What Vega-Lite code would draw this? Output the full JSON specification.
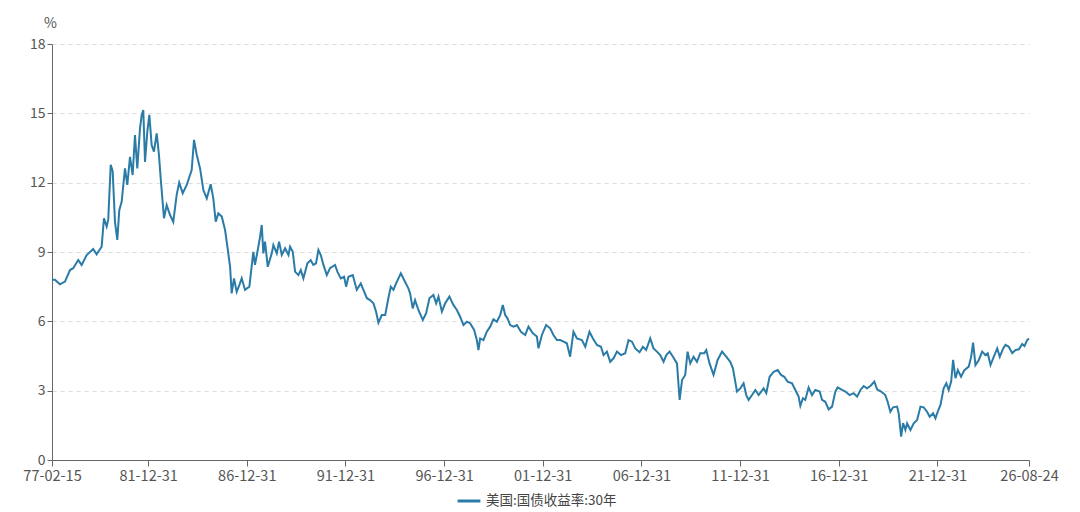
{
  "$schema": "https://vega.github.io/schema/vega-lite/v6.json",
  "width": 977,
  "height": 416,
  "autosize": "none",
  "padding": {"left": 52, "top": 44, "right": 51, "bottom": 52},
  "background": "#ffffff",
  "data": {
    "values": [
      {"date": "1977-02-15", "v": 7.8}, {"date": "1977-04-10", "v": 7.8}, {"date": "1977-07-11", "v": 7.6},
      {"date": "1977-10-13", "v": 7.72}, {"date": "1978-01-14", "v": 8.22}, {"date": "1978-03-14", "v": 8.3},
      {"date": "1978-06-16", "v": 8.65}, {"date": "1978-08-18", "v": 8.44}, {"date": "1978-11-19", "v": 8.87},
      {"date": "1979-03-20", "v": 9.13}, {"date": "1979-05-22", "v": 8.9}, {"date": "1979-08-23", "v": 9.23},
      {"date": "1979-10-05", "v": 10.46}, {"date": "1979-11-24", "v": 10.1}, {"date": "1979-12-23", "v": 10.4},
      {"date": "1980-02-07", "v": 12.77}, {"date": "1980-03-14", "v": 12.5}, {"date": "1980-04-26", "v": 10.3},
      {"date": "1980-06-08", "v": 9.52}, {"date": "1980-07-14", "v": 10.8}, {"date": "1980-08-28", "v": 11.18},
      {"date": "1980-10-28", "v": 12.62}, {"date": "1980-12-10", "v": 11.9}, {"date": "1981-01-29", "v": 13.12},
      {"date": "1981-03-19", "v": 12.33}, {"date": "1981-05-01", "v": 14.06}, {"date": "1981-06-13", "v": 12.62},
      {"date": "1981-08-02", "v": 14.35}, {"date": "1981-09-03", "v": 14.93}, {"date": "1981-10-02", "v": 15.14},
      {"date": "1981-11-03", "v": 12.9}, {"date": "1981-12-15", "v": 14.2}, {"date": "1982-01-22", "v": 14.93},
      {"date": "1982-03-06", "v": 13.63}, {"date": "1982-04-17", "v": 13.34}, {"date": "1982-06-07", "v": 14.13},
      {"date": "1982-07-19", "v": 13.2}, {"date": "1982-08-20", "v": 12.19}, {"date": "1982-10-20", "v": 10.46},
      {"date": "1982-12-09", "v": 11.03}, {"date": "1983-02-10", "v": 10.6}, {"date": "1983-04-10", "v": 10.3},
      {"date": "1983-06-12", "v": 11.47}, {"date": "1983-07-29", "v": 12.0}, {"date": "1983-10-02", "v": 11.54},
      {"date": "1983-12-15", "v": 11.9}, {"date": "1984-03-16", "v": 12.55}, {"date": "1984-04-28", "v": 13.85},
      {"date": "1984-06-18", "v": 13.2}, {"date": "1984-08-18", "v": 12.62}, {"date": "1984-10-18", "v": 11.68},
      {"date": "1984-12-20", "v": 11.32}, {"date": "1985-03-03", "v": 11.93}, {"date": "1985-04-20", "v": 11.32},
      {"date": "1985-06-04", "v": 10.31}, {"date": "1985-07-22", "v": 10.67}, {"date": "1985-09-24", "v": 10.53},
      {"date": "1985-11-24", "v": 9.95}, {"date": "1986-01-06", "v": 9.23}, {"date": "1986-02-25", "v": 8.36},
      {"date": "1986-03-26", "v": 7.21}, {"date": "1986-05-08", "v": 7.86}, {"date": "1986-06-27", "v": 7.28},
      {"date": "1986-08-15", "v": 7.57}, {"date": "1986-09-28", "v": 7.86}, {"date": "1986-11-28", "v": 7.36},
      {"date": "1987-02-17", "v": 7.5}, {"date": "1987-05-01", "v": 9.01}, {"date": "1987-06-01", "v": 8.44},
      {"date": "1987-08-02", "v": 9.23}, {"date": "1987-09-03", "v": 9.66}, {"date": "1987-10-04", "v": 10.17},
      {"date": "1987-11-03", "v": 8.94}, {"date": "1987-12-04", "v": 9.45}, {"date": "1988-01-23", "v": 8.36},
      {"date": "1988-04-06", "v": 8.94}, {"date": "1988-05-06", "v": 9.3}, {"date": "1988-07-08", "v": 8.94},
      {"date": "1988-08-20", "v": 9.45}, {"date": "1988-10-09", "v": 8.87}, {"date": "1988-12-09", "v": 9.16},
      {"date": "1989-02-10", "v": 8.87}, {"date": "1989-03-11", "v": 9.23}, {"date": "1989-04-30", "v": 9.01},
      {"date": "1989-06-12", "v": 8.15}, {"date": "1989-08-12", "v": 8.0}, {"date": "1989-09-26", "v": 8.22},
      {"date": "1989-11-13", "v": 7.86}, {"date": "1990-01-27", "v": 8.51}, {"date": "1990-03-28", "v": 8.65},
      {"date": "1990-05-16", "v": 8.44}, {"date": "1990-07-05", "v": 8.51}, {"date": "1990-08-18", "v": 9.09},
      {"date": "1990-10-01", "v": 8.87}, {"date": "1990-11-19", "v": 8.44}, {"date": "1991-01-21", "v": 8.0},
      {"date": "1991-03-21", "v": 8.3}, {"date": "1991-06-22", "v": 8.44}, {"date": "1991-08-04", "v": 8.15},
      {"date": "1991-10-06", "v": 7.86}, {"date": "1991-12-07", "v": 7.93}, {"date": "1992-01-13", "v": 7.5},
      {"date": "1992-02-25", "v": 7.93}, {"date": "1992-05-15", "v": 8.0}, {"date": "1992-07-28", "v": 7.36},
      {"date": "1992-10-11", "v": 7.64}, {"date": "1992-11-28", "v": 7.36}, {"date": "1993-02-01", "v": 7.0},
      {"date": "1993-04-01", "v": 6.92}, {"date": "1993-06-01", "v": 6.78}, {"date": "1993-07-20", "v": 6.42},
      {"date": "1993-09-02", "v": 5.94}, {"date": "1993-11-04", "v": 6.27}, {"date": "1994-01-05", "v": 6.27},
      {"date": "1994-03-05", "v": 7.0}, {"date": "1994-04-19", "v": 7.5}, {"date": "1994-06-07", "v": 7.36},
      {"date": "1994-07-26", "v": 7.64}, {"date": "1994-10-22", "v": 8.08}, {"date": "1994-12-22", "v": 7.79},
      {"date": "1995-03-10", "v": 7.43}, {"date": "1995-04-11", "v": 7.21}, {"date": "1995-05-30", "v": 6.56},
      {"date": "1995-07-12", "v": 6.92}, {"date": "1995-09-12", "v": 6.49}, {"date": "1995-12-03", "v": 6.06},
      {"date": "1996-02-03", "v": 6.35}, {"date": "1996-04-03", "v": 7.0}, {"date": "1996-06-16", "v": 7.14},
      {"date": "1996-08-06", "v": 6.78}, {"date": "1996-09-18", "v": 7.07}, {"date": "1996-11-20", "v": 6.42},
      {"date": "1997-01-20", "v": 6.78}, {"date": "1997-04-08", "v": 7.07}, {"date": "1997-06-21", "v": 6.71},
      {"date": "1997-08-24", "v": 6.49}, {"date": "1997-10-24", "v": 6.2}, {"date": "1997-12-24", "v": 5.84},
      {"date": "1998-02-26", "v": 5.98}, {"date": "1998-04-26", "v": 5.92}, {"date": "1998-07-10", "v": 5.63},
      {"date": "1998-08-29", "v": 5.19}, {"date": "1998-09-28", "v": 4.76}, {"date": "1998-10-29", "v": 5.26},
      {"date": "1998-12-29", "v": 5.19}, {"date": "1999-03-02", "v": 5.55}, {"date": "1999-05-02", "v": 5.77},
      {"date": "1999-07-02", "v": 6.09}, {"date": "1999-09-04", "v": 5.98}, {"date": "1999-11-04", "v": 6.27},
      {"date": "1999-12-23", "v": 6.71}, {"date": "2000-02-05", "v": 6.27}, {"date": "2000-03-18", "v": 6.13},
      {"date": "2000-05-07", "v": 5.84}, {"date": "2000-07-07", "v": 5.77}, {"date": "2000-09-09", "v": 5.84},
      {"date": "2000-11-22", "v": 5.55}, {"date": "2001-02-10", "v": 5.41}, {"date": "2001-04-11", "v": 5.77},
      {"date": "2001-07-01", "v": 5.48}, {"date": "2001-09-14", "v": 5.34}, {"date": "2001-10-13", "v": 4.83},
      {"date": "2001-12-15", "v": 5.41}, {"date": "2002-03-04", "v": 5.84}, {"date": "2002-05-17", "v": 5.7},
      {"date": "2002-07-17", "v": 5.41}, {"date": "2002-09-19", "v": 5.19}, {"date": "2002-11-19", "v": 5.19},
      {"date": "2003-01-20", "v": 5.12}, {"date": "2003-03-22", "v": 5.05}, {"date": "2003-05-22", "v": 4.47},
      {"date": "2003-07-23", "v": 5.55}, {"date": "2003-09-25", "v": 5.26}, {"date": "2003-12-26", "v": 5.19},
      {"date": "2004-02-26", "v": 4.9}, {"date": "2004-05-14", "v": 5.55}, {"date": "2004-07-17", "v": 5.26},
      {"date": "2004-09-30", "v": 4.98}, {"date": "2004-12-13", "v": 4.9}, {"date": "2005-01-30", "v": 4.54},
      {"date": "2005-04-02", "v": 4.69}, {"date": "2005-06-02", "v": 4.25}, {"date": "2005-08-03", "v": 4.4},
      {"date": "2005-10-05", "v": 4.69}, {"date": "2005-12-18", "v": 4.54}, {"date": "2006-03-07", "v": 4.62},
      {"date": "2006-05-07", "v": 5.19}, {"date": "2006-07-09", "v": 5.12}, {"date": "2006-09-09", "v": 4.83},
      {"date": "2006-11-27", "v": 4.66}, {"date": "2007-01-29", "v": 4.9}, {"date": "2007-03-29", "v": 4.76},
      {"date": "2007-06-13", "v": 5.26}, {"date": "2007-08-13", "v": 4.83}, {"date": "2007-10-15", "v": 4.69},
      {"date": "2007-12-15", "v": 4.54}, {"date": "2008-02-15", "v": 4.25}, {"date": "2008-04-05", "v": 4.54},
      {"date": "2008-06-05", "v": 4.69}, {"date": "2008-08-07", "v": 4.47}, {"date": "2008-10-20", "v": 4.18},
      {"date": "2008-12-08", "v": 2.6}, {"date": "2009-01-22", "v": 3.46}, {"date": "2009-03-22", "v": 3.68},
      {"date": "2009-05-04", "v": 4.69}, {"date": "2009-06-23", "v": 4.18}, {"date": "2009-08-23", "v": 4.47},
      {"date": "2009-10-25", "v": 4.25}, {"date": "2009-12-25", "v": 4.62}, {"date": "2010-03-09", "v": 4.62},
      {"date": "2010-04-15", "v": 4.76}, {"date": "2010-06-15", "v": 4.18}, {"date": "2010-08-28", "v": 3.68},
      {"date": "2010-11-11", "v": 4.33}, {"date": "2011-02-02", "v": 4.69}, {"date": "2011-04-20", "v": 4.47},
      {"date": "2011-07-03", "v": 4.25}, {"date": "2011-08-22", "v": 3.97}, {"date": "2011-10-04", "v": 3.39},
      {"date": "2011-11-05", "v": 2.96}, {"date": "2012-01-06", "v": 3.1}, {"date": "2012-03-06", "v": 3.32},
      {"date": "2012-04-25", "v": 2.81}, {"date": "2012-06-07", "v": 2.6}, {"date": "2012-08-09", "v": 2.81},
      {"date": "2012-10-10", "v": 3.03}, {"date": "2012-12-10", "v": 2.81}, {"date": "2013-03-11", "v": 3.1},
      {"date": "2013-04-30", "v": 2.89}, {"date": "2013-07-01", "v": 3.6}, {"date": "2013-09-14", "v": 3.82},
      {"date": "2013-11-27", "v": 3.89}, {"date": "2014-01-29", "v": 3.68}, {"date": "2014-03-29", "v": 3.6},
      {"date": "2014-05-30", "v": 3.39}, {"date": "2014-08-20", "v": 3.32}, {"date": "2014-10-20", "v": 3.03},
      {"date": "2014-12-20", "v": 2.74}, {"date": "2015-01-21", "v": 2.34}, {"date": "2015-03-10", "v": 2.67},
      {"date": "2015-04-22", "v": 2.6}, {"date": "2015-06-23", "v": 3.14}, {"date": "2015-08-25", "v": 2.81},
      {"date": "2015-10-25", "v": 3.03}, {"date": "2016-01-14", "v": 2.96}, {"date": "2016-02-27", "v": 2.6},
      {"date": "2016-04-27", "v": 2.52}, {"date": "2016-06-28", "v": 2.19}, {"date": "2016-08-30", "v": 2.31},
      {"date": "2016-10-30", "v": 2.96}, {"date": "2016-12-12", "v": 3.14}, {"date": "2017-03-02", "v": 3.03},
      {"date": "2017-05-03", "v": 2.96}, {"date": "2017-07-21", "v": 2.81}, {"date": "2017-10-04", "v": 2.89},
      {"date": "2017-12-07", "v": 2.74}, {"date": "2018-02-07", "v": 3.03}, {"date": "2018-04-07", "v": 3.2},
      {"date": "2018-06-09", "v": 3.1}, {"date": "2018-08-09", "v": 3.2}, {"date": "2018-10-22", "v": 3.39},
      {"date": "2018-12-12", "v": 3.06}, {"date": "2019-02-25", "v": 2.96}, {"date": "2019-05-13", "v": 2.81},
      {"date": "2019-06-25", "v": 2.52}, {"date": "2019-08-14", "v": 2.09}, {"date": "2019-10-04", "v": 2.28},
      {"date": "2019-12-17", "v": 2.31}, {"date": "2020-01-16", "v": 2.02}, {"date": "2020-03-01", "v": 1.01},
      {"date": "2020-04-06", "v": 1.6}, {"date": "2020-05-19", "v": 1.3}, {"date": "2020-06-19", "v": 1.59},
      {"date": "2020-08-20", "v": 1.3}, {"date": "2020-10-20", "v": 1.59}, {"date": "2020-12-22", "v": 1.73},
      {"date": "2021-02-22", "v": 2.31}, {"date": "2021-04-22", "v": 2.28}, {"date": "2021-06-24", "v": 2.09},
      {"date": "2021-08-12", "v": 1.87}, {"date": "2021-10-14", "v": 2.02}, {"date": "2021-11-26", "v": 1.8},
      {"date": "2022-01-08", "v": 2.09}, {"date": "2022-02-27", "v": 2.38}, {"date": "2022-04-27", "v": 3.1},
      {"date": "2022-06-16", "v": 3.32}, {"date": "2022-07-29", "v": 3.03}, {"date": "2022-09-13", "v": 3.39},
      {"date": "2022-10-19", "v": 4.33}, {"date": "2022-12-01", "v": 3.54}, {"date": "2023-01-14", "v": 3.89},
      {"date": "2023-03-15", "v": 3.6}, {"date": "2023-05-16", "v": 3.89}, {"date": "2023-08-04", "v": 4.04},
      {"date": "2023-09-18", "v": 4.47}, {"date": "2023-10-24", "v": 5.08}, {"date": "2023-12-07", "v": 4.11},
      {"date": "2024-02-07", "v": 4.33}, {"date": "2024-04-09", "v": 4.69}, {"date": "2024-06-09", "v": 4.54},
      {"date": "2024-07-21", "v": 4.62}, {"date": "2024-09-11", "v": 4.11}, {"date": "2024-11-11", "v": 4.47},
      {"date": "2025-01-13", "v": 4.83}, {"date": "2025-03-01", "v": 4.47}, {"date": "2025-05-03", "v": 4.83},
      {"date": "2025-06-15", "v": 4.98}, {"date": "2025-08-15", "v": 4.9}, {"date": "2025-10-17", "v": 4.62},
      {"date": "2025-12-18", "v": 4.76}, {"date": "2026-02-17", "v": 4.79}, {"date": "2026-04-20", "v": 5.02},
      {"date": "2026-06-01", "v": 4.93}, {"date": "2026-07-21", "v": 5.19}, {"date": "2026-08-24", "v": 5.26}
    ]
  },
  "transform": [{"calculate": "'美国:国债收益率:30年'", "as": "series"}],
  "mark": {"type": "line", "strokeWidth": 2, "interpolate": "linear"},
  "encoding": {
    "x": {
      "field": "date",
      "type": "temporal",
      "scale": {"type": "utc", "domain": ["1977-02-15", "2026-08-24"], "nice": false},
      "axis": {
        "title": null,
        "format": "%y-%m-%d",
        "grid": false,
        "values": [
          {"year": 1977, "month": 2, "date": 15, "utc": true},
          {"year": 1981, "month": 12, "date": 31, "utc": true},
          {"year": 1986, "month": 12, "date": 31, "utc": true},
          {"year": 1991, "month": 12, "date": 31, "utc": true},
          {"year": 1996, "month": 12, "date": 31, "utc": true},
          {"year": 2001, "month": 12, "date": 31, "utc": true},
          {"year": 2006, "month": 12, "date": 31, "utc": true},
          {"year": 2011, "month": 12, "date": 31, "utc": true},
          {"year": 2016, "month": 12, "date": 31, "utc": true},
          {"year": 2021, "month": 12, "date": 31, "utc": true},
          {"year": 2026, "month": 8, "date": 24, "utc": true}
        ],
        "labelOverlap": false,
        "labelFlush": false,
        "labelFontSize": 14.5,
        "tickSize": 6,
        "labelPadding": 3
      }
    },
    "y": {
      "field": "v",
      "type": "quantitative",
      "scale": {"domain": [0, 18], "nice": false, "zero": true},
      "axis": {
        "title": "%",
        "titleAngle": 0,
        "titleX": -2,
        "titleY": -21,
        "titleAlign": "center",
        "titleBaseline": "middle",
        "values": [0, 3, 6, 9, 12, 15, 18],
        "labelFontSize": 14,
        "tickSize": 5,
        "labelPadding": 2,
        "grid": true,
        "gridDash": [4, 4],
        "gridColor": "#dddddd"
      }
    },
    "color": {
      "field": "series",
      "type": "nominal",
      "scale": {"range": ["#2a7ba6"]},
      "legend": {
        "title": null,
        "orient": "none",
        "legendX": 404,
        "legendY": 444,
        "symbolType": "stroke",
        "symbolSize": 520,
        "symbolStrokeWidth": 3,
        "labelFontSize": 13.5,
        "labelColor": "#444444",
        "labelFont": "Noto Sans CJK SC"
      }
    }
  },
  "config": {
    "view": {"stroke": null},
    "font": "Noto Sans CJK SC",
    "axis": {
      "labelFont": "Noto Sans CJK SC",
      "labelColor": "#555555",
      "titleFont": "Noto Sans CJK SC",
      "titleFontSize": 14,
      "titleFontWeight": "normal",
      "titleColor": "#555555",
      "domainColor": "#666666",
      "tickColor": "#666666"
    }
  }
}
